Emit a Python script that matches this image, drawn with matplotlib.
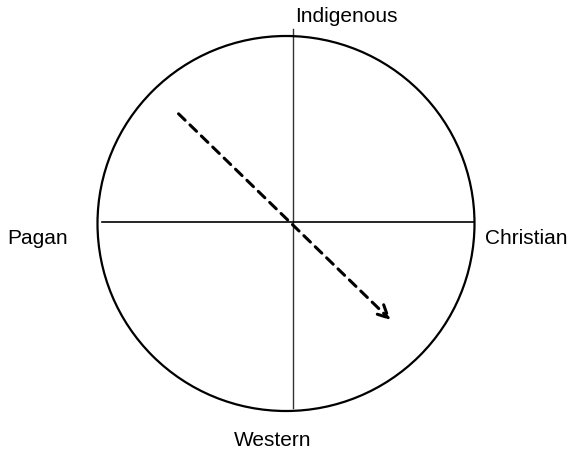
import matplotlib.pyplot as plt
from matplotlib.patches import Ellipse

# axis labels of the two dimensions
labels_x = ["Pagan", "Christian"]
labels_y = ["Indigenous", "Western"]

# direction of the shift (start -> end), in the same frame as the circle (center = 0,0)
shift_start = (-0.57, 0.585)
shift_end = (0.555, -0.515)

plt.rcParams["font.family"] = ["Liberation Sans", "DejaVu Sans"]

fig = plt.figure(figsize=(5.68, 4.53), dpi=100)
ax = fig.add_axes([0, 0, 1, 1])
ax.set_xlim(0, 568)
ax.set_ylim(453, 0)
ax.axis("off")

# circle in pixel frame
cx, cy = 286, 223.5
rx, ry = 188.5, 187.5

ax.add_patch(Ellipse((cx, cy), 2 * rx, 2 * ry, fill=False, ec="black", lw=1.6))

# axes lines
vx = 293
ax.plot([102, 474], [222, 222], color="black", lw=1.2)
ax.plot([vx, vx], [29, 408], color="black", lw=1.0, alpha=0.8)


def to_px(p):
    return cx + p[0] * rx, cy - p[1] * ry


x0, y0 = to_px(shift_start)
x1, y1 = to_px(shift_end)
ax.annotate("", xy=(x1, y1), xytext=(x0, y0),
            arrowprops=dict(arrowstyle="->", lw=2.2, ls=(0, (3, 2.2)),
                            color="black", mutation_scale=22,
                            shrinkA=0, shrinkB=0))

fs = 15
ax.text(38, 238, labels_x[0], fontsize=fs, ha="center", va="center")
ax.text(526, 238, labels_x[1], fontsize=fs, ha="center", va="center")
ax.text(346, 17, labels_y[0], fontsize=fs, ha="center", va="center")
ax.text(273, 440, labels_y[1], fontsize=fs, ha="center", va="center")

fig.savefig("out.png", dpi=100)
